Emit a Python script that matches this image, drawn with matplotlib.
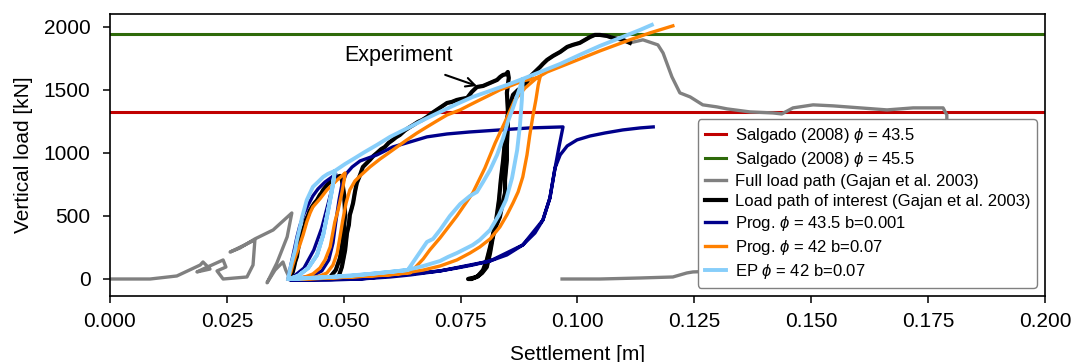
import matplotlib.pyplot as plt

plt.rcParams['font.family'] = ['Liberation Sans', 'DejaVu Sans']
plt.rcParams['mathtext.fontset'] = 'custom'
plt.rcParams['mathtext.rm'] = 'Liberation Sans'
plt.rcParams['mathtext.it'] = 'Liberation Sans:italic'

# Bearing capacity, Salgado (2008) [kN]
q_salgado_435 = 1325
q_salgado_455 = 1945

# Centrifuge test, Gajan et al. (2003): settlement [m], vertical load [kN]
pre_x = [0.0, 0.0086, 0.0143, 0.0193, 0.0199, 0.0214, 0.0186, 0.0199, 0.0242, 0.0248, 0.0229, 0.0242,
         0.0293, 0.0306, 0.0310, 0.0257, 0.0278, 0.0310, 0.0349, 0.0389, 0.0379, 0.0357, 0.0336, 0.0353,
         0.0370, 0.0376]
pre_y = [0, 0, 24, 111, 135, 79, 56, 79, 151, 95, 64, 0,
         16, 111, 310, 214, 246, 318, 389, 524, 334, 127, -30, 71,
         135, 71]

interest_x = [0.0385, 0.0391, 0.0394, 0.0396, 0.0400, 0.0402, 0.0406, 0.0408, 0.0413, 0.0417, 0.0419, 0.0424,
              0.0427, 0.0432, 0.0437, 0.0443, 0.0449, 0.0452, 0.0456, 0.0462, 0.0466, 0.0471, 0.0475, 0.0481,
              0.0486, 0.0492,
              0.0496, 0.0501, 0.0503, 0.0498, 0.0492, 0.0483, 0.0471, 0.0460,
              0.0477, 0.0488, 0.0496, 0.0503, 0.0505, 0.0507, 0.0511, 0.0513, 0.0517, 0.0520, 0.0524, 0.0528,
              0.0535, 0.0541, 0.0548, 0.0556, 0.0563, 0.0571, 0.0580, 0.0588, 0.0596, 0.0605, 0.0612, 0.0620,
              0.0631, 0.0642, 0.0650, 0.0659, 0.0668, 0.0678, 0.0688, 0.0699, 0.0710, 0.0721, 0.0731, 0.0742,
              0.0753, 0.0764, 0.0774, 0.0785, 0.0798, 0.0806, 0.0813, 0.0821, 0.0828, 0.0835, 0.0841, 0.0847,
              0.0851,
              0.0853, 0.0849, 0.0851, 0.0851, 0.0849, 0.0849, 0.0845, 0.0845, 0.0839, 0.0834, 0.0824, 0.0819,
              0.0813, 0.0806, 0.0796, 0.0785, 0.0766,
              0.0774, 0.0787, 0.0798, 0.0806, 0.0813, 0.0819, 0.0826, 0.0832, 0.0836, 0.0841, 0.0845, 0.0849,
              0.0856, 0.0862, 0.0873, 0.0883, 0.0892, 0.0898, 0.0909, 0.0920, 0.0926, 0.0935, 0.0948, 0.0963,
              0.0978, 0.0990, 0.1005, 0.1016, 0.1027, 0.1037, 0.1048, 0.1063, 0.1076, 0.1087, 0.1097, 0.1112]
interest_y = [0, 56, 100, 135, 180, 230, 310, 360, 389, 430, 468, 508,
              540, 572, 600, 627, 667, 680, 707, 735, 754, 770, 786, 800,
              810, 818,
              786, 667, 508, 310, 167, 71, 16, 0,
              0, 8, 95, 230, 300, 365, 430, 508, 560, 603, 691, 762,
              826, 889, 915, 945, 975, 1000, 1030, 1048, 1080, 1104, 1125, 1143,
              1180, 1207, 1225, 1247, 1262, 1286, 1315, 1342, 1370, 1397, 1405, 1421,
              1430, 1437, 1485, 1524, 1532, 1545, 1556, 1570, 1580, 1605, 1620, 1625,
              1643,
              1596, 1477, 1342, 1207, 1064, 945, 786, 683, 588, 492, 405, 334,
              206, 95, 48, 16, 0,
              0, 24, 71, 151, 254, 349, 468, 627, 786, 945, 1104, 1262,
              1382, 1461, 1501, 1524, 1564, 1604, 1643, 1683, 1707, 1739, 1771, 1802,
              1842, 1858, 1874, 1898, 1921, 1937, 1937, 1929, 1913, 1906, 1898, 1874]

post_x = [0.1140, 0.1172, 0.1183, 0.1202, 0.1219, 0.1241, 0.1258, 0.1268, 0.1298, 0.1320, 0.1369, 0.1418,
          0.1437, 0.1461, 0.1504, 0.1547, 0.1604, 0.1662, 0.1718, 0.1760, 0.1782, 0.1790, 0.1790, 0.1476,
          0.1247, 0.1234, 0.1204, 0.1134, 0.1048, 0.0967]
post_y = [1898, 1858, 1794, 1604, 1477, 1445, 1405, 1382, 1366, 1350, 1326, 1318,
          1310, 1358, 1382, 1374, 1358, 1342, 1358, 1358, 1358, 1302, 350, 87,
          56, 48, 16, 8, 0, 0]

# Progressive model, phi = 43.5, b = 0.001
prog435_x = [0.0381, 0.0387, 0.0394, 0.0400, 0.0406, 0.0415, 0.0424, 0.0434, 0.0445, 0.0460, 0.0475, 0.0483,
             0.0477, 0.0466, 0.0453, 0.0436, 0.0415, 0.0389,
             0.0406, 0.0432, 0.0453, 0.0468, 0.0477, 0.0483, 0.0490, 0.0496, 0.0505, 0.0518,
             0.0535, 0.0571, 0.0605, 0.0642, 0.0678, 0.0721, 0.0770, 0.0834, 0.0898, 0.0969,
             0.0960, 0.0952, 0.0941, 0.0926, 0.0909, 0.0883, 0.0849, 0.0813, 0.0776, 0.0742, 0.0706, 0.0642,
             0.0599, 0.0535, 0.0471, 0.0385,
             0.0535, 0.0706, 0.0813, 0.0883, 0.0926, 0.0941, 0.0952, 0.0963, 0.0978, 0.0999, 0.1027, 0.1059,
             0.1097, 0.1134, 0.1162]
prog435_y = [0, 111, 230, 334, 421, 516, 588, 659, 715, 770, 810, 834,
             746, 588, 405, 230, 87, 8,
             8, 24, 64, 151, 286, 453, 627, 746, 834, 889,
             937, 985, 1048, 1088, 1128, 1151, 1167, 1183, 1199, 1207,
             1040, 881, 643, 468, 365, 270, 191, 143, 111, 87, 64, 32,
             16, 0, -8, -8,
             0, 64, 143, 270, 468, 643, 881, 985, 1056, 1104, 1135, 1159,
             1183, 1199, 1207]

# Progressive model, phi = 42, b = 0.07
prog42_x = [0.0381, 0.0387, 0.0391, 0.0398, 0.0406, 0.0413, 0.0421, 0.0428, 0.0434, 0.0449, 0.0464, 0.0475,
            0.0486, 0.0496, 0.0503,
            0.0501, 0.0496, 0.0488, 0.0481, 0.0475, 0.0471, 0.0460, 0.0449, 0.0434, 0.0417, 0.0396, 0.0383,
            0.0428, 0.0449, 0.0464, 0.0477, 0.0486, 0.0492, 0.0498, 0.0505, 0.0513, 0.0524, 0.0535, 0.0556,
            0.0578, 0.0593, 0.0614, 0.0635, 0.0657, 0.0678, 0.0699, 0.0721, 0.0749, 0.0770, 0.0791, 0.0813,
            0.0834, 0.0856, 0.0883, 0.0903, 0.0920,
            0.0916, 0.0911, 0.0905, 0.0898, 0.0892, 0.0883, 0.0873, 0.0862, 0.0849, 0.0834, 0.0813, 0.0791,
            0.0770, 0.0742, 0.0706, 0.0670, 0.0631, 0.0599, 0.0556, 0.0513, 0.0471, 0.0428, 0.0389,
            0.0471, 0.0556, 0.0642, 0.0670, 0.0684, 0.0706, 0.0742, 0.0776, 0.0802, 0.0824, 0.0845, 0.0866,
            0.0888, 0.0913,
            0.0935, 0.0984, 0.1048, 0.1112, 0.1155, 0.1204]
prog42_y = [0, 56, 111, 191, 270, 349, 453, 524, 572, 635, 707, 746,
            786, 818, 842,
            786, 683, 548, 453, 334, 254, 151, 87, 40, 16, 0, 0,
            8, 24, 48, 111, 206, 334, 468, 603, 707, 778, 818, 889,
            953, 992, 1048, 1104, 1159, 1207, 1254, 1302, 1342, 1382, 1421, 1461,
            1501, 1532, 1572, 1588, 1604,
            1540, 1421, 1302, 1143, 985, 810, 691, 603, 508, 413, 318, 254,
            206, 151, 103, 71, 48, 32, 24, 16, 8, 0, 0,
            8, 24, 48, 159, 230, 326, 500, 683, 881, 1080, 1247, 1421,
            1516, 1596,
            1643, 1715, 1810, 1898, 1953, 2009]

# Elasto-plastic model, phi = 42, b = 0.07
ep42_x = [0.0381, 0.0385, 0.0389, 0.0396, 0.0400, 0.0406, 0.0411, 0.0417, 0.0421, 0.0428, 0.0434, 0.0445,
          0.0456, 0.0466, 0.0481,
          0.0475, 0.0466, 0.0456, 0.0443, 0.0424, 0.0402, 0.0383,
          0.0402, 0.0424, 0.0443, 0.0456, 0.0466, 0.0475, 0.0481,
          0.0503, 0.0524, 0.0545, 0.0571, 0.0599, 0.0620, 0.0642, 0.0670, 0.0706, 0.0742, 0.0776, 0.0813,
          0.0849, 0.0883,
          0.0881, 0.0877, 0.0871, 0.0860, 0.0847, 0.0832, 0.0813, 0.0791, 0.0776, 0.0759, 0.0742, 0.0723,
          0.0706, 0.0670, 0.0635, 0.0599, 0.0556, 0.0513, 0.0471, 0.0428, 0.0385,
          0.0471, 0.0556, 0.0637, 0.0659, 0.0678, 0.0691, 0.0706, 0.0727, 0.0749, 0.0770, 0.0785, 0.0798,
          0.0813, 0.0828, 0.0841, 0.0851, 0.0862, 0.0873, 0.0883,
          0.0920, 0.0963, 0.1005, 0.1048, 0.1091, 0.1134, 0.1159]
ep42_y = [0, 71, 135, 230, 310, 405, 492, 572, 627, 683, 731, 770,
          810, 834, 858,
          707, 532, 349, 191, 87, 24, 0,
          24, 87, 191, 349, 532, 707, 858,
          913, 960, 1008, 1064, 1128, 1167, 1207, 1262, 1326, 1389, 1445, 1493,
          1540, 1588,
          1421, 1223, 1024, 802, 627, 508, 389, 310, 270, 238, 206, 175,
          143, 103, 71, 56, 40, 24, 16, 8, 0,
          16, 40, 71, 191, 294, 318, 389, 500, 595, 659, 691, 770,
          865, 985, 1119, 1247, 1358, 1477, 1588,
          1643, 1707, 1779, 1850, 1913, 1977, 2017]

# The gray record is the whole test; the black part is drawn over it
full_x = pre_x + interest_x + post_x
full_y = pre_y + interest_y + post_y

fig = plt.figure(figsize=(10.76, 3.62), dpi=100)
ax = fig.add_axes([0.1022, 0.1823, 0.869, 0.779])

ax.axhline(q_salgado_435, color='#c00000', lw=2.2, label='Salgado (2008) $\\phi$ = 43.5')
ax.axhline(q_salgado_455, color='#2e6a0a', lw=2.2, label='Salgado (2008) $\\phi$ = 45.5')
ax.plot(full_x, full_y, color='gray', lw=2.4, label='Full load path (Gajan et al. 2003)')
ax.plot(interest_x, interest_y, color='black', lw=3.0, label='Load path of interest (Gajan et al. 2003)')
ax.plot(prog435_x, prog435_y, color='#00008b', lw=2.4, label='Prog. $\\phi$ = 43.5 b=0.001')
ax.plot(prog42_x, prog42_y, color='#ff8000', lw=2.4, label='Prog. $\\phi$ = 42 b=0.07')
ax.plot(ep42_x, ep42_y, color='#87cefa', lw=2.8, label='EP $\\phi$ = 42 b=0.07')

ax.text(0.0618, 1771, 'Experiment', fontsize=15.5, ha='center', va='center')
ax.annotate('', xy=(0.0785, 1532), xytext=(0.0717, 1620),
            arrowprops=dict(arrowstyle='->', color='black', lw=1.5, mutation_scale=16,
                            shrinkA=0, shrinkB=0))

ax.set_xlim(0, 0.2)
ax.set_ylim(-135, 2103)
ax.set_xticks([0.0, 0.025, 0.05, 0.075, 0.1, 0.125, 0.15, 0.175, 0.2])
ax.set_xticklabels(['0.000', '0.025', '0.050', '0.075', '0.100', '0.125', '0.150', '0.175', '0.200'])
ax.set_yticks([0, 500, 1000, 1500, 2000])
ax.tick_params(labelsize=15, length=5, width=1.1)
ax.tick_params(axis='x', pad=6.5)
ax.tick_params(axis='y', pad=9)
for s in ax.spines.values():
    s.set_linewidth(1.2)
ax.set_xlabel('Settlement [m]', fontsize=15, labelpad=10)
ax.set_ylabel('Vertical load [kN]', fontsize=15, labelpad=7.5)

leg = ax.legend(loc='lower right', fontsize=12, labelspacing=0.3, handlelength=1.3,
                handletextpad=0.5, borderpad=0.4, framealpha=1, edgecolor='0.5')
leg.get_frame().set_linewidth(1.0)

fig.savefig('out.png', dpi=100)
